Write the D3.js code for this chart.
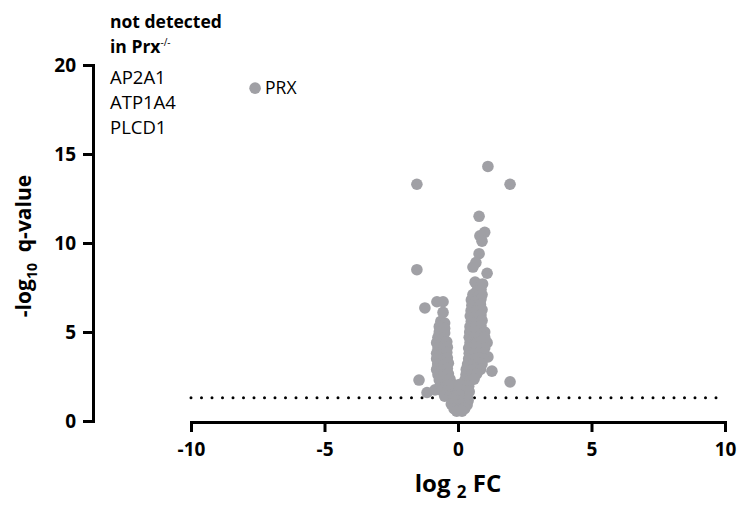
<!DOCTYPE html>
<html lang="en">
<head>
    <meta charset="UTF-8">
    <title>Volcano plot</title>
    <script src="https://d3js.org/d3.v7.min.js"></script>
    <style>
        body { margin: 0; background: #fff; }
        svg { display: block; font-family: "Open Sans", sans-serif; }
    </style>
</head>
<body>
    <svg id="chart"></svg>

    <script>
        // tick labels
        const xTicks = [-10, -5, 0, 5, 10];
        const yTicks = [0, 5, 10, 15, 20];

        // significance threshold, -log10(0.05)
        const threshold = 1.3;

        // [log2 FC, -log10 q]
        const outlierPoints = [
            [1.12, 14.3], [-1.54, 13.3], [1.95, 13.3], [0.79, 11.5], [1.0, 10.6], [0.82, 10.4],
            [0.9, 10.1], [0.79, 9.4], [0.67, 8.9], [0.56, 8.65], [1.09, 8.3], [0.64, 7.8],
            [-1.54, 8.5], [-1.24, 6.35], [-0.79, 6.7], [-0.56, 6.7], [-0.56, 6.1],
            [1.27, 2.8], [1.95, 2.2], [-1.46, 2.3], [-1.16, 1.6], [-0.86, 1.75], [1.12, 3.6], [1.09, 4.4]
        ];

        const upPoints = [
            [0.75, 7.6], [0.92, 7.7], [0.7, 7.3], [0.86, 7.4], [0.56, 7.1], [0.76, 7.0], [0.9, 7.1],
            [0.5, 6.8], [0.68, 6.75], [0.86, 6.85], [0.52, 6.5], [0.66, 6.45], [0.84, 6.55],
            [0.49, 6.2], [0.7, 6.15], [0.9, 6.25], [0.46, 5.9], [0.64, 5.85], [0.86, 5.95],
            [0.5, 5.6], [0.7, 5.55], [0.9, 5.65], [0.45, 5.3], [0.65, 5.25], [0.86, 5.35],
            [0.44, 5.0], [0.6, 4.95], [0.8, 5.05], [1.0, 5.0], [0.42, 4.7], [0.6, 4.65], [0.8, 4.75], [1.0, 4.7],
            [0.45, 4.4], [0.66, 4.35], [0.86, 4.45], [0.4, 4.1], [0.6, 4.05], [0.8, 4.15], [1.0, 4.1],
            [0.42, 3.8], [0.6, 3.75], [0.8, 3.85], [0.95, 3.8], [0.4, 3.5], [0.56, 3.45], [0.76, 3.55], [0.94, 3.5],
            [0.36, 3.2], [0.55, 3.15], [0.75, 3.25], [0.9, 3.2], [0.31, 2.9], [0.5, 2.85], [0.7, 2.95], [0.84, 2.9],
            [0.3, 2.6], [0.5, 2.55], [0.7, 2.65], [0.26, 2.3], [0.45, 2.25], [0.6, 2.35],
            [0.22, 2.0], [0.4, 1.95], [0.2, 1.7], [0.42, 1.65], [0.15, 1.4], [0.35, 1.35]
        ];

        const downPoints = [
            [-0.64, 5.6], [-0.5, 5.5], [-0.7, 5.3], [-0.5, 5.2], [-0.7, 5.0], [-0.5, 4.95],
            [-0.75, 4.7], [-0.55, 4.65], [-0.8, 4.4], [-0.6, 4.35], [-0.42, 4.45],
            [-0.75, 4.1], [-0.56, 4.05], [-0.4, 4.15], [-0.8, 3.8], [-0.6, 3.75], [-0.42, 3.85],
            [-0.8, 3.5], [-0.6, 3.45], [-0.4, 3.55], [-0.76, 3.2], [-0.55, 3.15], [-0.36, 3.25],
            [-0.8, 2.9], [-0.6, 2.85], [-0.4, 2.95], [-0.75, 2.6], [-0.55, 2.55], [-0.36, 2.65],
            [-0.7, 2.3], [-0.5, 2.25], [-0.3, 2.35], [-0.65, 2.0], [-0.45, 1.95], [-0.3, 2.05],
            [-0.6, 1.7], [-0.4, 1.65], [-0.26, 1.75], [-0.5, 1.4], [-0.3, 1.35]
        ];

        const basePoints = [
            [-0.1, 2.0], [0.05, 2.05], [-0.05, 1.7], [0.06, 1.75], [-0.12, 1.4], [0.04, 1.45],
            [-0.2, 1.2], [0.0, 1.15], [0.2, 1.2], [0.38, 1.15], [-0.25, 0.95], [-0.05, 0.9],
            [0.15, 0.95], [0.34, 0.9], [-0.15, 0.7], [0.05, 0.65], [0.25, 0.7], [-0.05, 0.55], [0.15, 0.55]
        ];

        // labelled protein
        const labelled = [{ name: "PRX", fc: -7.6, q: 18.7 }];

        // proteins missing in the knockout
        const notDetected = ["AP2A1", "ATP1A4", "PLCD1"];

        const width = 738;
        const height = 506;
        const pointColor = "#a0a0a5";

        const svg = d3.select("#chart").attr("width", width).attr("height", height);

        const x = d3.scaleLinear().domain([-10, 10]).range([191, 725]);
        const y = d3.scaleLinear().domain([0, 20]).range([421, 65]);

        // plain hyphen for negatives, like the original
        const fmt = d => String(d);

        // x axis, detached below the plot
        const xAxis = svg.append("g")
            .attr("transform", "translate(0,422)")
            .call(d3.axisBottom(x).tickValues(xTicks).tickFormat(fmt).tickSize(10).tickSizeOuter(0).tickPadding(8));

        // y axis
        const yAxis = svg.append("g")
            .attr("transform", "translate(93,0)")
            .call(d3.axisLeft(y).tickValues(yTicks).tickFormat(fmt).tickSize(10).tickSizeOuter(0).tickPadding(7));

        [xAxis, yAxis].forEach(ax => {
            ax.select(".domain").attr("stroke", "#000").attr("stroke-width", 3).attr("stroke-linecap", "square");
            ax.selectAll(".tick line").attr("stroke", "#000").attr("stroke-width", 3);
            ax.selectAll(".tick text")
                .attr("fill", "#000")
                .attr("font-family", "'Open Sans', sans-serif")
                .attr("font-weight", "bold")
                .attr("font-size", "19px");
        });
        xAxis.selectAll(".tick text").attr("dy", "0.85em");
        yAxis.selectAll(".tick text").attr("dy", "0.35em");

        // threshold line
        svg.append("line")
            .attr("x1", x(-10)).attr("x2", x(10))
            .attr("y1", y(threshold)).attr("y2", y(threshold))
            .attr("stroke", "#000")
            .attr("stroke-width", 3)
            .attr("stroke-linecap", "round")
            .attr("stroke-dasharray", "0 10.5");

        // points
        const allPoints = [].concat(outlierPoints, upPoints, downPoints, basePoints);
        svg.append("g")
            .selectAll("circle")
            .data(allPoints)
            .join("circle")
            .attr("cx", d => x(d[0]))
            .attr("cy", d => y(d[1]))
            .attr("r", 5.8)
            .attr("fill", pointColor);

        const lab = svg.append("g").selectAll("g").data(labelled).join("g");
        lab.append("circle")
            .attr("cx", d => x(d.fc))
            .attr("cy", d => y(d.q))
            .attr("r", 5.8)
            .attr("fill", pointColor);
        lab.append("text")
            .attr("x", d => x(d.fc) + 10)
            .attr("y", d => y(d.q))
            .attr("dy", "0.35em")
            .attr("font-size", "17.5px")
            .text(d => d.name);

        // note, top left
        const note = svg.append("g").attr("transform", "translate(110,0)");
        note.append("text")
            .attr("y", 28)
            .attr("font-size", "17.5px")
            .attr("font-weight", "bold")
            .text("not detected");
        const inPrx = note.append("text")
            .attr("y", 53)
            .attr("font-size", "17.5px")
            .attr("font-weight", "bold");
        inPrx.append("tspan").text("in Prx");
        inPrx.append("tspan").attr("dy", -7).attr("font-size", "10px").attr("font-weight", "normal").text("-/-");

        note.selectAll(".gene")
            .data(notDetected)
            .join("text")
            .attr("class", "gene")
            .attr("y", (d, i) => 84 + i * 25)
            .attr("font-size", "18.5px")
            .text(d => d);

        // axis titles
        const xTitle = svg.append("text")
            .attr("x", x(0))
            .attr("y", 492)
            .attr("text-anchor", "middle")
            .attr("font-size", "24px")
            .attr("font-weight", "bold");
        xTitle.append("tspan").text("log ");
        xTitle.append("tspan").attr("dy", 6).attr("font-size", "17px").text("2");
        xTitle.append("tspan").attr("dy", -6).text(" FC");

        const yTitle = svg.append("text")
            .attr("transform", "translate(31,246) rotate(-90)")
            .attr("text-anchor", "middle")
            .attr("font-size", "21px")
            .attr("font-weight", "bold");
        yTitle.append("tspan").text("-log");
        yTitle.append("tspan").attr("dy", 6).attr("font-size", "14px").text("10");
        yTitle.append("tspan").attr("dy", -6).text("\u00a0\u00a0q-value");
    </script>
</body>
</html>
